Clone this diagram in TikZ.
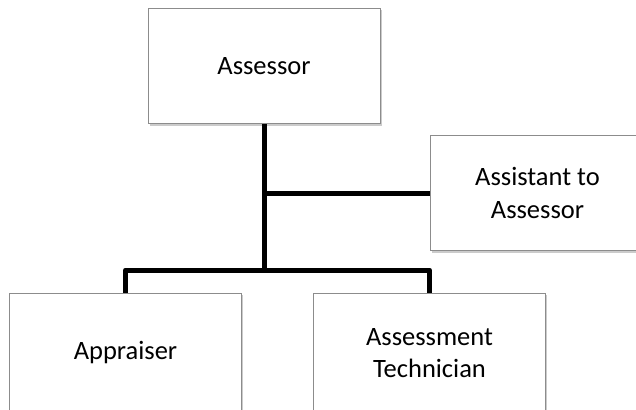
\documentclass[tikz,border=0pt]{standalone}
\usepackage{fontspec}
\setmainfont{Carlito}
\usetikzlibrary{shadows}
\tikzset{
  orgbox/.style={draw=black!45, line width=0.9pt, fill=white, minimum width=232pt, minimum height=115pt,
    align=center, inner sep=0pt, font=\fontsize{26.5}{32.5}\selectfont,
    drop shadow={shadow xshift=1.5pt, shadow yshift=-2pt, fill=black!40, opacity=0.5}},
  conn/.style={line width=5pt, black, line join=round}
}
\begin{document}
\begin{tikzpicture}[x=1pt,y=-1pt]
\useasboundingbox (0,0) rectangle (636,409);
\fill[white] (0,0) rectangle (636,409);
\node[orgbox] (assessor) at (264,66) {Assessor};
\node[orgbox, minimum width=215pt] (assist) at (537.5,193) {Assistant to\\Assessor};
\node[orgbox, minimum height=120pt] (appr) at (125.5,353) {Appraiser};
\node[orgbox, minimum height=120pt] (tech) at (429.5,353) {Assessment\\Technician};
\coordinate (bar) at (264,270);
\draw[conn] (assessor.south) -- (assessor.south |- bar);
\draw[conn] (assist.west) -- (assist.west -| assessor.south);
\draw[conn] (appr.north) -- (appr.north |- bar) -- (tech.north |- bar) -- (tech.north);
\end{tikzpicture}
\end{document}
